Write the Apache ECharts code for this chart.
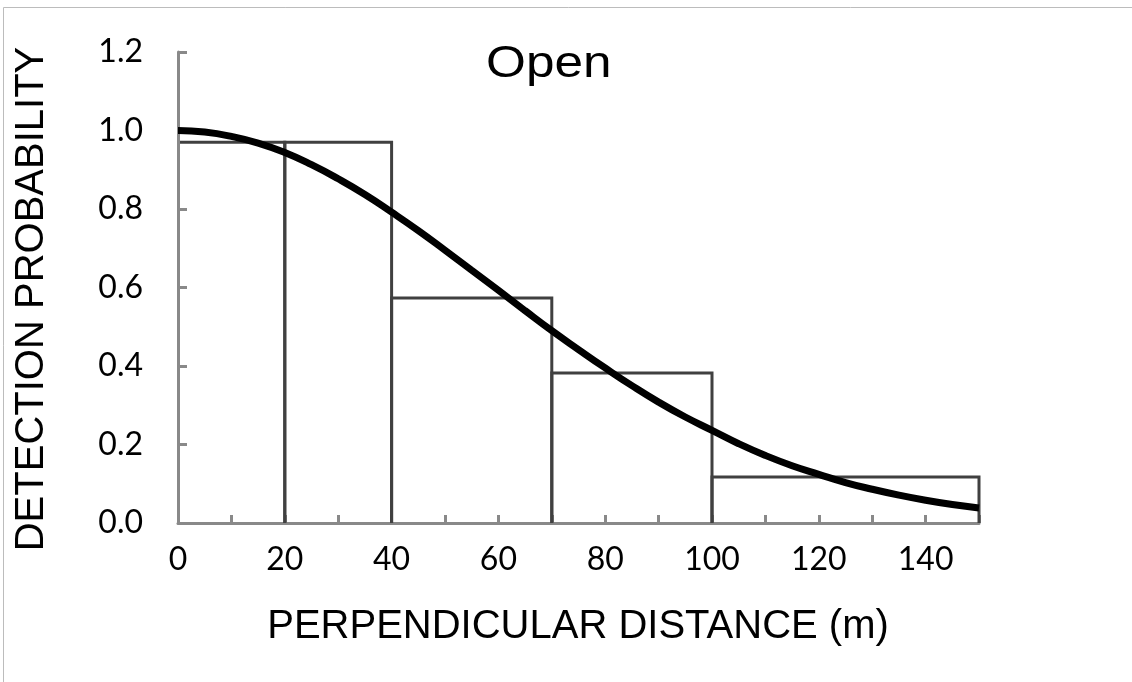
<!DOCTYPE html>
<html>
<head>
<meta charset="utf-8">
<script src="https://cdn.jsdelivr.net/npm/echarts@6/dist/echarts.min.js"></script>
<style>
html,body{margin:0;padding:0;background:#fff;}
#chart{width:1132px;height:682px;}
</style>
</head>
<body>
<div id="chart"></div>
<script>
// Fitted detection curve
const xDist = [0,5,10,15,20,25,30,35,40,45,50,55,60,65,70,75,80,85,90,95,100,105,110,115,120,125,130,135,140,145,150];
const detProb = [1.000,0.996,0.985,0.968,0.944,0.913,0.877,0.837,0.792,0.745,0.695,0.644,0.593,0.541,0.490,0.442,0.395,0.350,0.308,0.270,0.236,0.202,0.172,0.146,0.124,0.103,0.086,0.071,0.058,0.047,0.038];
// Histogram bins
const binStart = [0,20,40,70,100];
const binEnd = [20,40,70,100,150];
const binHeight = [0.97,0.97,0.573,0.382,0.117];
// Texts
const titleText = 'Open';
const xName = 'PERPENDICULAR DISTANCE (m)';
const yName = 'DETECTION PROBABILITY';

const chart = echarts.init(document.getElementById('chart'));
const bins = binStart.map((s,i)=>[s, binEnd[i], binHeight[i]]);
const curve = xDist.map((x,i)=>[x, detProb[i]]);
const axisGray = '#898989';

chart.setOption({
  animation:false,
  backgroundColor:'#ffffff',
  grid:{left:178, right:153, top:52, bottom:159},
  xAxis:{
    type:'value', min:0, max:150, interval:10,
    axisLine:{show:true, lineStyle:{color:axisGray, width:3}},
    axisTick:{show:true, inside:true, length:8, lineStyle:{color:axisGray, width:3}},
    splitLine:{show:false},
    axisLabel:{color:'#000', fontFamily:'Lato', fontSize:32, margin:21,
      formatter:v => (v % 20 === 0 ? String(v) : '')}
  },
  yAxis:{
    type:'value', min:0, max:1.2, interval:0.2, z:5,
    axisLine:{show:true, lineStyle:{color:axisGray, width:3}},
    axisTick:{show:true, inside:true, length:9, lineStyle:{color:axisGray, width:3}},
    splitLine:{show:false},
    axisLabel:{color:'#000', fontFamily:'Lato', fontSize:32, margin:35,
      formatter:v => v.toFixed(1)}
  },
  graphic:[
    {type:'rect', silent:true, z:-1, shape:{x:3.5, y:7.5, width:1200, height:1000},
      style:{fill:'none', stroke:'#bcbcbc', lineWidth:1}},
    {type:'text', x:486, y:42, scaleX:1.14, style:{text:titleText, fontFamily:'Liberation Sans', fontSize:45,
      fill:'#000', textVerticalAlign:'top'}},
    {type:'text', x:578, y:627, style:{text:xName, fontFamily:'Liberation Sans', fontSize:40,
      fill:'#000', textAlign:'center', textVerticalAlign:'middle'}},
    {type:'text', x:32, y:299, rotation:Math.PI/2, style:{text:yName, fontFamily:'Liberation Sans', fontSize:40,
      fill:'#000', textAlign:'center', textVerticalAlign:'middle'}}
  ],
  series:[
    {
      type:'custom', z:3,
      data:bins,
      encode:{x:[0,1], y:2},
      renderItem:function(params, api){
        const s = api.value(0), e = api.value(1), h = api.value(2);
        const p0 = api.coord([s,0]), p1 = api.coord([s,h]), p2 = api.coord([e,h]), p3 = api.coord([e,0]);
        const pts = s === 0 ? [p1,p2,p3] : [p0,p1,p2,p3];
        return {type:'polyline', shape:{points:pts},
          style:{stroke:'#404040', lineWidth:3, fill:'none'}};
      }
    },
    {
      type:'line', z:6, data:curve, smooth:true, symbol:'none',
      lineStyle:{color:'#000', width:7}
    }
  ]
});
</script>
</body>
</html>
